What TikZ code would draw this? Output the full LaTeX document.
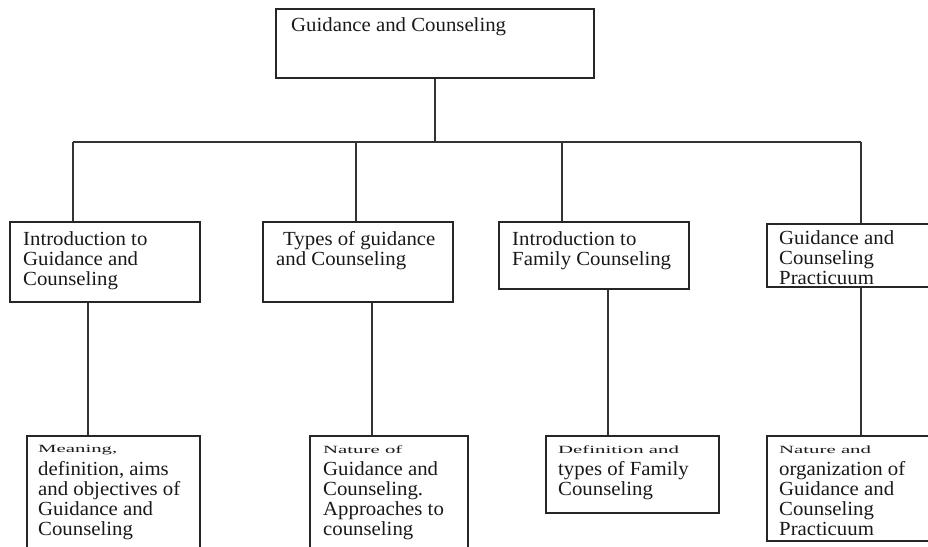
\documentclass[tikz,border=0pt]{standalone}
\usepackage{fontspec}
\setmainfont[FakeStretch=1.04]{Liberation Serif}
\usepackage{graphicx}
\begin{document}
\begin{tikzpicture}[x=1pt,y=-1pt,
  box/.style={draw=black!85, line width=1.6pt, anchor=north west, inner sep=0pt},
  lbl/.style={anchor=north west, inner sep=0pt, align=left, font=\fontsize{20}{20}\selectfont, text=black!90},
  conn/.style={draw=black!80, line width=1.4pt}]
\useasboundingbox (0,0) rectangle (928,546);
\clip (0,0) rectangle (928,546);
% boxes
\node[box, minimum width=318pt, minimum height=69pt] (top) at (275,8) {};
\node[box, minimum width=190pt, minimum height=80pt] (a1) at (9,221) {};
\node[box, minimum width=190pt, minimum height=80pt] (a2) at (262,221) {};
\node[box, minimum width=190pt, minimum height=67pt] (a3) at (498,221) {};
\node[box, minimum width=200pt, minimum height=63pt] (a4) at (766,223) {};
\node[box, minimum width=173pt, minimum height=130pt] (c1) at (26,435) {};
\node[box, minimum width=158pt, minimum height=130pt] (c2) at (309,435) {};
\node[box, minimum width=173pt, minimum height=77pt] (c3) at (545,435) {};
\node[box, minimum width=200pt, minimum height=105pt] (c4) at (766,435) {};
% texts
\node[lbl] (ttop) at (291,17.5) {Guidance and Counseling};
\node[lbl] (ta1) at (23,231) {Introduction to\\Guidance and\\Counseling};
\node[lbl] (ta2) at (276,231) {\hspace*{7pt}Types of guidance\\and Counseling};
\node[lbl] (ta3) at (512,231) {Introduction to\\Family Counseling};
\node[lbl] (ta4) at (779,230) {Guidance and\\Counseling\\Practicuum};
\node[lbl] (tc1) at (38,445.5) {\scalebox{1}[0.55]{Meaning,}\\[2.3pt]definition, aims\\and objectives of\\Guidance and\\Counseling};
\node[lbl] (tc2) at (323,445.5) {\scalebox{1}[0.55]{Nature of}\\[2.3pt]Guidance and\\Counseling.\\Approaches to\\counseling};
\node[lbl] (tc3) at (558,445.5) {\scalebox{1}[0.55]{Definition and}\\[2.3pt]types of Family\\Counseling};
\node[lbl] (tc4) at (779,445.5) {\scalebox{1}[0.55]{Nature and}\\[2.3pt]organization of\\Guidance and\\Counseling\\Practicuum};
% connectors
\coordinate (barL) at (73,142);
\coordinate (barR) at (861,142);
\coordinate (j2) at (356,142);
\coordinate (j3) at (562,142);
\coordinate (k1) at (88,0);
\coordinate (k2) at (372,0);
\coordinate (k3) at (608,0);
\coordinate (k4) at (861,0);
\draw[conn] (top.south) -- (top.south |- barL);
\draw[conn] (barL) -- (barR);
\draw[conn] (barL) -- (barL |- a1.north);
\draw[conn] (j2) -- (j2 |- a2.north);
\draw[conn] (j3) -- (j3 |- a3.north);
\draw[conn] (barR) -- (barR |- a4.north);
\draw[conn] (k1 |- a1.south) -- (k1 |- c1.north);
\draw[conn] (k2 |- a2.south) -- (k2 |- c2.north);
\draw[conn] (k3 |- a3.south) -- (k3 |- c3.north);
\draw[conn] (k4 |- a4.south) -- (k4 |- c4.north);
\end{tikzpicture}
\end{document}
